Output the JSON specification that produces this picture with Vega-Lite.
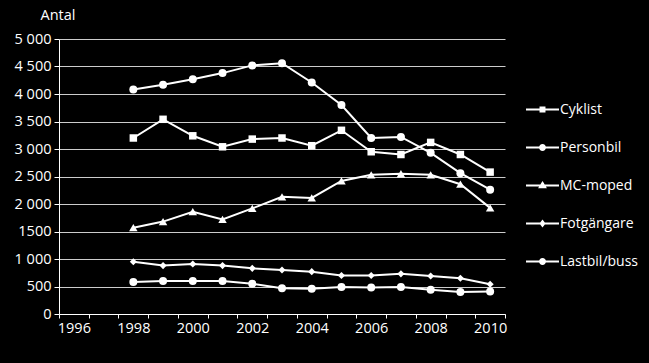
{
  "$schema": "https://vega.github.io/schema/vega-lite/v6.json",
  "width": 446,
  "height": 275,
  "autosize": "none",
  "padding": {"left": 59, "top": 39, "right": 144, "bottom": 49},
  "background": "black",
  "config": {
    "view": {"stroke": null},
    "font": "Open Sans",
    "axis": {"labelColor": "white", "titleColor": "white", "domainColor": "white", "tickColor": "white", "labelFontSize": 14.5, "titleFontSize": 14.5, "titleFontWeight": "normal", "labelFont": "Open Sans", "titleFont": "Open Sans"},
    "legend": {"labelColor": "white", "labelFontSize": 14, "labelFont": "Open Sans"}
  },
  "data": {"values": [
    {"year": 1998, "series": "Cyklist", "value": 3200},
    {"year": 1999, "series": "Cyklist", "value": 3540},
    {"year": 2000, "series": "Cyklist", "value": 3240},
    {"year": 2001, "series": "Cyklist", "value": 3040},
    {"year": 2002, "series": "Cyklist", "value": 3180},
    {"year": 2003, "series": "Cyklist", "value": 3200},
    {"year": 2004, "series": "Cyklist", "value": 3060},
    {"year": 2005, "series": "Cyklist", "value": 3340},
    {"year": 2006, "series": "Cyklist", "value": 2950},
    {"year": 2007, "series": "Cyklist", "value": 2900},
    {"year": 2008, "series": "Cyklist", "value": 3120},
    {"year": 2009, "series": "Cyklist", "value": 2900},
    {"year": 2010, "series": "Cyklist", "value": 2580},
    {"year": 1998, "series": "Personbil", "value": 4080},
    {"year": 1999, "series": "Personbil", "value": 4170},
    {"year": 2000, "series": "Personbil", "value": 4270},
    {"year": 2001, "series": "Personbil", "value": 4380},
    {"year": 2002, "series": "Personbil", "value": 4520},
    {"year": 2003, "series": "Personbil", "value": 4560},
    {"year": 2004, "series": "Personbil", "value": 4210},
    {"year": 2005, "series": "Personbil", "value": 3800},
    {"year": 2006, "series": "Personbil", "value": 3200},
    {"year": 2007, "series": "Personbil", "value": 3220},
    {"year": 2008, "series": "Personbil", "value": 2930},
    {"year": 2009, "series": "Personbil", "value": 2560},
    {"year": 2010, "series": "Personbil", "value": 2260},
    {"year": 1998, "series": "MC-moped", "value": 1570},
    {"year": 1999, "series": "MC-moped", "value": 1680},
    {"year": 2000, "series": "MC-moped", "value": 1860},
    {"year": 2001, "series": "MC-moped", "value": 1720},
    {"year": 2002, "series": "MC-moped", "value": 1920},
    {"year": 2003, "series": "MC-moped", "value": 2130},
    {"year": 2004, "series": "MC-moped", "value": 2110},
    {"year": 2005, "series": "MC-moped", "value": 2420},
    {"year": 2006, "series": "MC-moped", "value": 2530},
    {"year": 2007, "series": "MC-moped", "value": 2550},
    {"year": 2008, "series": "MC-moped", "value": 2530},
    {"year": 2009, "series": "MC-moped", "value": 2360},
    {"year": 2010, "series": "MC-moped", "value": 1930},
    {"year": 1998, "series": "Fotgängare", "value": 950},
    {"year": 1999, "series": "Fotgängare", "value": 880},
    {"year": 2000, "series": "Fotgängare", "value": 910},
    {"year": 2001, "series": "Fotgängare", "value": 880},
    {"year": 2002, "series": "Fotgängare", "value": 830},
    {"year": 2003, "series": "Fotgängare", "value": 800},
    {"year": 2004, "series": "Fotgängare", "value": 770},
    {"year": 2005, "series": "Fotgängare", "value": 700},
    {"year": 2006, "series": "Fotgängare", "value": 700},
    {"year": 2007, "series": "Fotgängare", "value": 730},
    {"year": 2008, "series": "Fotgängare", "value": 690},
    {"year": 2009, "series": "Fotgängare", "value": 650},
    {"year": 2010, "series": "Fotgängare", "value": 540},
    {"year": 1998, "series": "Lastbil/buss", "value": 580},
    {"year": 1999, "series": "Lastbil/buss", "value": 600},
    {"year": 2000, "series": "Lastbil/buss", "value": 600},
    {"year": 2001, "series": "Lastbil/buss", "value": 600},
    {"year": 2002, "series": "Lastbil/buss", "value": 550},
    {"year": 2003, "series": "Lastbil/buss", "value": 470},
    {"year": 2004, "series": "Lastbil/buss", "value": 460},
    {"year": 2005, "series": "Lastbil/buss", "value": 490},
    {"year": 2006, "series": "Lastbil/buss", "value": 480},
    {"year": 2007, "series": "Lastbil/buss", "value": 490},
    {"year": 2008, "series": "Lastbil/buss", "value": 440},
    {"year": 2009, "series": "Lastbil/buss", "value": 400},
    {"year": 2010, "series": "Lastbil/buss", "value": 410}
  ]},
  "encoding": {
    "x": {
      "field": "year", "type": "ordinal", "bandPosition": 0.5,
      "scale": {"type": "band", "domain": [1996, 1997, 1998, 1999, 2000, 2001, 2002, 2003, 2004, 2005, 2006, 2007, 2008, 2009, 2010], "paddingInner": 0, "paddingOuter": 0},
      "axis": {"title": null, "tickBand": "extent", "labelAngle": 0, "tickSize": 4, "labelPadding": 3, "grid": false, "labelExpr": "datum.value % 2 === 0 ? '' + datum.value : ''"}
    },
    "y": {
      "field": "value", "type": "quantitative",
      "scale": {"domain": [0, 5000], "nice": false},
      "axis": {"values": [0, 500, 1000, 1500, 2000, 2500, 3000, 3500, 4000, 4500, 5000], "grid": true, "gridColor": "#cccccc", "gridWidth": 1, "tickSize": 5, "labelPadding": 3,
        "labelExpr": "datum.value == 1500 ? '1500' : replace(format(datum.value, ','), ',', ' ')",
        "title": "Antal", "titleAngle": 0, "titleAlign": "left", "titleBaseline": "middle", "titleX": -19, "titleY": -24}
    }
  },
  "layer": [
    {
      "mark": {"type": "line", "strokeWidth": 2},
      "encoding": {
        "stroke": {
          "field": "series", "type": "nominal",
          "scale": {"domain": ["Cyklist", "Personbil", "MC-moped", "Fotgängare", "Lastbil/buss"], "range": ["white", "white", "white", "white", "white"]},
          "legend": {
            "title": null, "orient": "none", "legendX": 466, "legendY": 53, "padding": 0,
            "symbolSize": 1089, "symbolStrokeWidth": 2, "symbolStrokeColor": "white", "symbolFillColor": "white",
            "labelOffset": 0, "rowPadding": 13,
            "encode": {"symbols": {"update": {
              "shape": {"signal": "datum.value === 'Cyklist' ? 'M-1,0H1M-0.12,-0.12H0.12V0.12H-0.12Z' : datum.value === 'MC-moped' ? 'M-1,0H1M0,-0.16L0.16,0.1H-0.16Z' : datum.value === 'Fotgängare' ? 'M-1,0H1M0,-0.14L0.11,0L0,0.14L-0.11,0Z' : 'M-1,0H1M0.15,0A0.15,0.15,0,1,1,-0.15,0A0.15,0.15,0,1,1,0.15,0Z'"},
              "fill": {"value": "white"},
              "stroke": {"value": "white"},
              "strokeWidth": {"value": 2}
            }}}
          }
        }
      }
    },
    {
      "transform": [{"filter": "datum.series === 'Cyklist'"}],
      "mark": {"type": "point", "shape": "square", "size": 56, "filled": true, "opacity": 1, "color": "white"}
    },
    {
      "transform": [{"filter": "datum.series === 'Personbil' || datum.series === 'Lastbil/buss'"}],
      "mark": {"type": "point", "shape": "circle", "size": 64, "filled": true, "opacity": 1, "color": "white"}
    },
    {
      "transform": [{"filter": "datum.series === 'MC-moped'"}],
      "mark": {"type": "point", "shape": "triangle-up", "size": 72, "filled": true, "opacity": 1, "color": "white"}
    },
    {
      "transform": [{"filter": "datum.series === 'Fotgängare'"}],
      "mark": {"type": "point", "shape": "diamond", "size": 50, "filled": true, "opacity": 1, "color": "white"}
    }
  ]
}
